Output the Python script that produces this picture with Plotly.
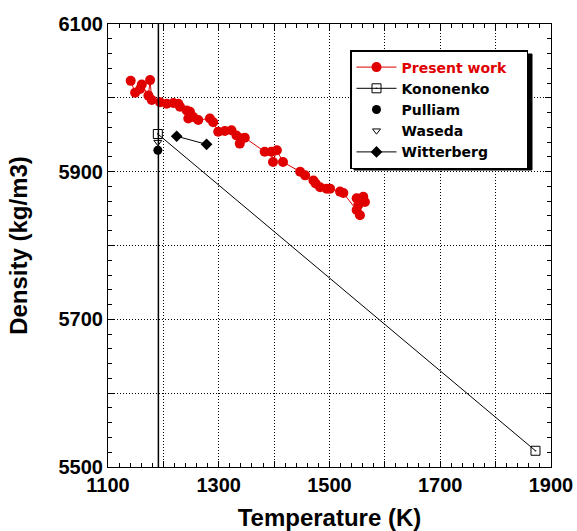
import plotly.graph_objects as go

# ---- data ----
present_T = [1141, 1149, 1158, 1161, 1173, 1176, 1179, 1194, 1206, 1218, 1227, 1230,
             1242, 1245, 1248, 1254, 1263, 1284, 1290, 1299, 1311, 1323, 1332, 1338,
             1341, 1347, 1383, 1395, 1398, 1405, 1416, 1447, 1456, 1471, 1475, 1483,
             1495, 1501, 1519, 1525, 1549, 1552, 1555, 1549, 1561, 1564]
present_D = [6023, 6007, 6012, 6018, 6003, 6024, 5997, 5994, 5992, 5993, 5992, 5988,
             5983, 5972, 5981, 5974, 5970, 5972, 5967, 5954, 5955, 5956, 5949, 5938,
             5945, 5946, 5927, 5927, 5913, 5929, 5913, 5900, 5895, 5888, 5884, 5879,
             5877, 5877, 5873, 5871, 5848, 5855, 5841, 5864, 5866, 5859]

kononenko_T = [1190, 1872]
kononenko_D = [5951, 5522]

pulliam_T = [1190]
pulliam_D = [5929]

waseda_T = [1190]
waseda_D = [5940]

witterberg_T = [1224, 1278]
witterberg_D = [5948, 5937]

melting_T = 1191

x_tickvals = [1100, 1200, 1300, 1400, 1500, 1600, 1700, 1800, 1900]
x_ticktext = ["1100", "", "1300", "", "1500", "", "1700", "", "1900"]
y_tickvals = [5500, 5600, 5700, 5800, 5900, 6000, 6100]
y_ticktext = ["5500", "", "5700", "", "5900", "", "6100"]

FONT = "Arial, Liberation Sans, sans-serif"
LFONT = "DejaVu Sans, Verdana, sans-serif"
RED = "#e00000"
PAD = "\u00a0" * 3

fig = go.Figure()

fig.add_trace(go.Scatter(
    x=present_T, y=present_D, mode="lines+markers",
    name="<span style='color:#e00000'>Present work</span>" + PAD,
    line=dict(color=RED, width=1),
    marker=dict(symbol="circle", size=10, color=RED)))

fig.add_trace(go.Scatter(
    x=kononenko_T, y=kononenko_D, mode="lines+markers", name="Kononenko",
    line=dict(color="black", width=1),
    marker=dict(symbol="square-open-dot", size=9, color="black",
                line=dict(width=1, color="black"))))

fig.add_trace(go.Scatter(
    x=pulliam_T, y=pulliam_D, mode="markers", name="Pulliam",
    marker=dict(symbol="circle", size=9, color="black")))

fig.add_trace(go.Scatter(
    x=waseda_T, y=waseda_D, mode="markers", name="Waseda",
    marker=dict(symbol="triangle-down-open", size=7, color="black",
                line=dict(width=1, color="black"))))

fig.add_trace(go.Scatter(
    x=witterberg_T, y=witterberg_D, mode="lines+markers", name="Witterberg",
    line=dict(color="black", width=1),
    marker=dict(symbol="diamond", size=9, color="black")))

axis_common = dict(
    showline=True, linecolor="black", linewidth=1, mirror="allticks",
    ticks="inside", ticklen=6, tickcolor="black", tickwidth=1,
    showgrid=True, gridcolor="black", gridwidth=1, griddash="1px,2px",
    zeroline=False, automargin=False,
    tickfont=dict(family=FONT, size=20, color="black", weight="bold"),
    minor=dict(ticks="inside", ticklen=4, tickcolor="black", tickwidth=1,
               dtick=20, showgrid=False),
)

fig.update_xaxes(range=[1100, 1900], tickmode="array", tickvals=x_tickvals,
                 ticktext=x_ticktext,
                 title=dict(text="Temperature (K)", standoff=27,
                            font=dict(family=FONT, size=24, color="black", weight="bold")),
                 **axis_common)
fig.update_yaxes(range=[5500, 6100], tickmode="array", tickvals=y_tickvals,
                 ticktext=y_ticktext,
                 title=dict(text="Density (kg/m3)", standoff=24,
                            font=dict(family=FONT, size=24, color="black", weight="bold")),
                 **axis_common)

# plot area in pixels (for converting legend placement to paper coords)
ML, MT, PW, PH = 108, 24, 443, 443


def px_x(p):
    return (p - ML) / PW


def px_y(p):
    return 1 - (p - MT) / PH


box_l, box_t, box_w, box_h, sh = 350, 50, 178, 116, 4
shapes = [
    dict(type="line", xref="x", yref="paper", x0=melting_T, x1=melting_T, y0=0, y1=1,
         line=dict(color="black", width=1.5), layer="above"),
    dict(type="rect", xref="paper", yref="paper", layer="above",
         x0=px_x(box_l + sh), x1=px_x(box_l + box_w + sh),
         y0=px_y(box_t + box_h + sh), y1=px_y(box_t + sh),
         fillcolor="black", line=dict(color="black", width=1)),
]

fig.update_layout(
    width=577, height=531,
    margin=dict(l=ML, r=577 - ML - PW, t=MT, b=531 - MT - PH),
    paper_bgcolor="white", plot_bgcolor="white",
    showlegend=True,
    shapes=shapes,
    legend=dict(x=px_x(box_l), y=px_y(box_t), xanchor="left", yanchor="top",
                bgcolor="white", bordercolor="black", borderwidth=1.5,
                font=dict(family=LFONT, size=14, color="black", weight="bold"),
                tracegroupgap=0, itemwidth=40),
)

fig.write_html("out.html")
